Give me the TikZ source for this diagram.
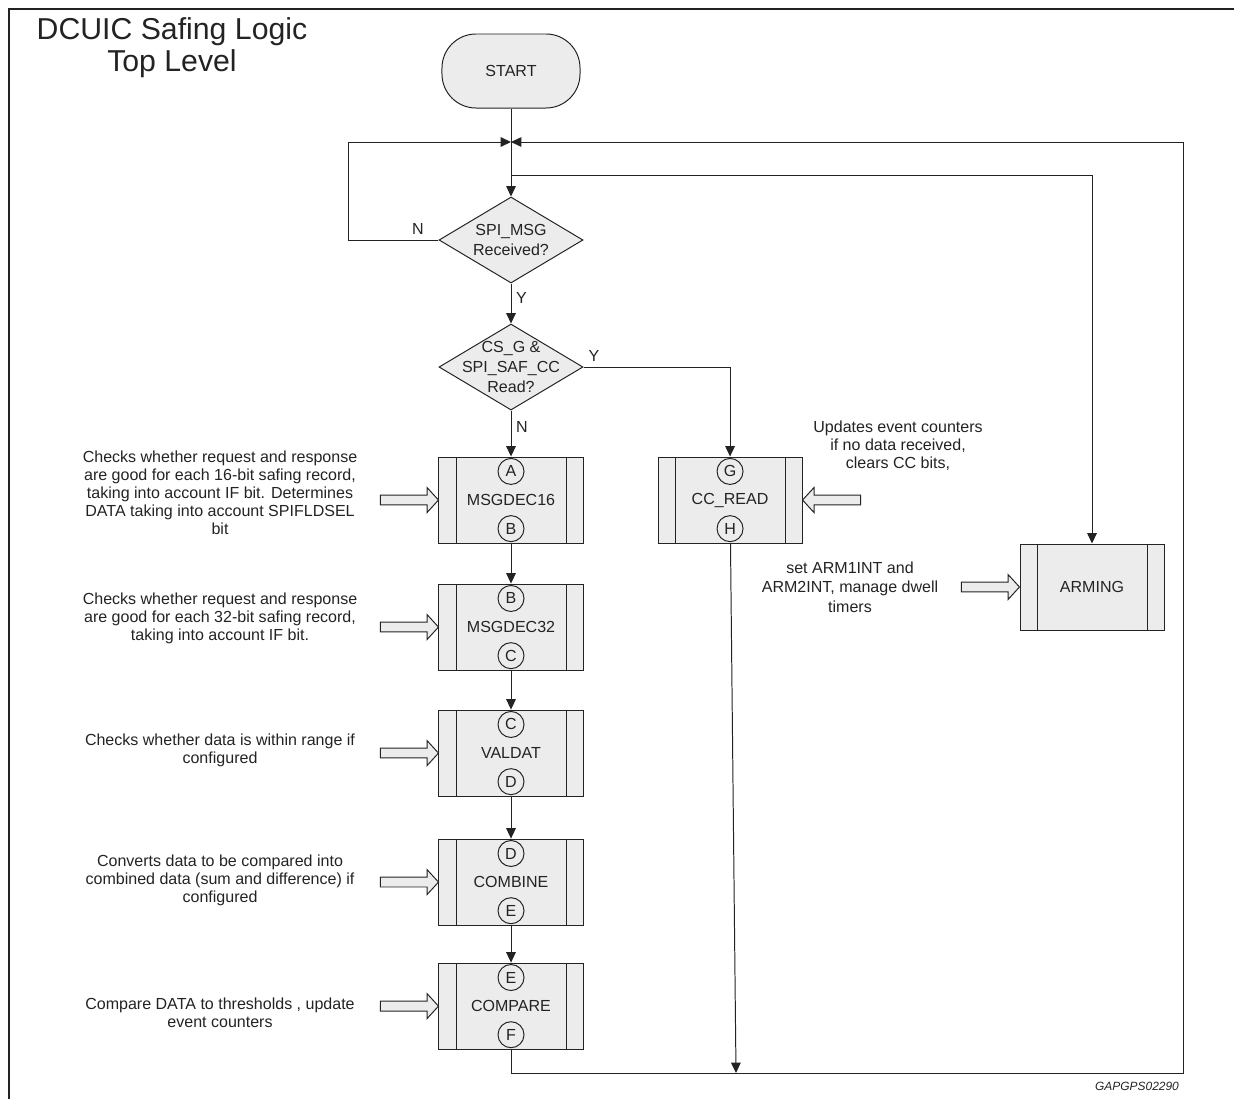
\documentclass[tikz,border=0pt]{standalone}
\usepackage{fontspec}
\setmainfont{Liberation Sans}
\usetikzlibrary{positioning,arrows.meta,shapes.geometric,shapes.arrows}
\definecolor{boxgray}{RGB}{236,236,236}
\definecolor{inkgray}{RGB}{35,35,35}

\begin{document}
\begin{tikzpicture}[
        x=0.025cm, y=-0.025cm,
        color=inkgray, line width=0.7pt,
        >={Triangle[length=0.26cm, width=0.24cm]},
        every node/.style={font=\fontsize{11.4}{12.8}\selectfont},
        proc/.style={draw, fill=boxgray, minimum width=3.6cm, minimum height=2.15cm, inner sep=0pt,
            path picture={
                \draw ([xshift=0.425cm]path picture bounding box.north west) -- ([xshift=0.425cm]path picture bounding box.south west);
                \draw ([xshift=-0.425cm]path picture bounding box.north east) -- ([xshift=-0.425cm]path picture bounding box.south east);}},
        conn/.style={circle, draw, minimum size=0.65cm, inner sep=0pt},
        decision/.style={diamond, draw, fill=boxgray, minimum width=3.6cm, minimum height=2.15cm, inner sep=0pt},
        dtext/.style={align=center, font=\fontsize{11.4}{14}\selectfont},
        feed/.style={single arrow, draw, fill=boxgray, minimum height=1.45cm, inner sep=0.11cm,
            single arrow head extend=0.19cm, single arrow tip angle=95, outer sep=0pt, anchor=tip},
        note/.style={align=center}
    ]
        \useasboundingbox (0,0) rectangle (1234,1099);
        \draw[line width=1pt] (9,1099) -- (9,9) -- (1234,9);

        % Title and start
        \node[align=center, font=\fontsize{21.5}{22.8}\selectfont] (title) at (172,48) {DCUIC Safing Logic\\Top Level};
        \node[draw, fill=boxgray, rounded corners=0.85cm, minimum width=3.45cm, minimum height=1.85cm] (start) at (511,71) {START};
        \coordinate (mrg) at (511,142);
        \coordinate (br) at (511,175);

        % Decisions
        \node[decision, label={[dtext]center:{SPI\_MSG\\Received?}}] (rx) at (511,240) {};
        \node[decision, below=1.0cm of rx, label={[dtext]center:{CS\_G \&\\SPI\_SAF\_CC\\Read?}}] (rd) {};

        % Process boxes
        \node[proc, below=1.15cm of rd] (m16) {MSGDEC16};
        \node[proc, below=1.0cm of m16] (m32) {MSGDEC32};
        \node[proc, below=0.975cm of m32] (vd) {VALDAT};
        \node[proc, below=1.05cm of vd] (cb) {COMBINE};
        \node[proc, below=0.925cm of cb] (cp) {COMPARE};
        \node[proc, right=1.85cm of m16] (ccr) {CC\_READ};
        \node[proc] (arm) at (1092,587) {ARMING};

        % Connector circles
        \node[conn, below=1pt of m16.north] (m16in) {A};
        \node[conn, above=1pt of m16.south] (m16out) {B};
        \node[conn, below=1pt of m32.north] (m32in) {B};
        \node[conn, above=1pt of m32.south] (m32out) {C};
        \node[conn, below=1pt of vd.north] (vdin) {C};
        \node[conn, above=1pt of vd.south] (vdout) {D};
        \node[conn, below=1pt of cb.north] (cbin) {D};
        \node[conn, above=1pt of cb.south] (cbout) {E};
        \node[conn, below=1pt of cp.north] (cpin) {E};
        \node[conn, above=1pt of cp.south] (cpout) {F};
        \node[conn, below=1pt of ccr.north] (ccrin) {G};
        \node[conn, above=1pt of ccr.south] (ccrout) {H};

        % Input arrows
        \node[feed] (f16) at (m16.west) {};
        \node[feed] (f32) at (m32.west) {};
        \node[feed] (fvd) at (vd.west) {};
        \node[feed] (fcb) at (cb.west) {};
        \node[feed] (fcp) at (cp.west) {};
        \node[feed, shape border rotate=180] (fcc) at (ccr.east) {};
        \node[feed] (farm) at (arm.west) {};

        % Notes
        \node[note] (t16) at (220,493) {Checks whether request and response\\are good for each 16-bit safing record,\\taking into account IF bit. Determines\\DATA taking into account SPIFLDSEL\\bit};
        \node[note] (t32) at (220,618) {Checks whether request and response\\are good for each 32-bit safing record,\\taking into account IF bit.};
        \node[note] (tvd) at (220,750) {Checks whether data is within range if\\configured};
        \node[note] (tcb) at (220,880) {Converts data to be compared into\\combined data (sum and difference) if\\configured};
        \node[note] (tcp) at (220,1013) {Compare DATA to thresholds , update\\event counters};
        \node[note] (tcc) at (898,446) {Updates event counters\\if no data received,\\clears CC bits,};
        \node[note, font=\fontsize{11.4}{14}\selectfont] (tarm) at (850,587) {set ARM1INT and\\ARM2INT, manage dwell\\timers};
        \node[anchor=east, font=\fontsize{8.5}{10}\selectfont\itshape] (fig) at (1184,1086) {GAPGPS02290};

        % Arrows
        \coordinate (ret) at (1183,1073);
        \coordinate (join) at (736,1073);
        \draw (start) -- (mrg);
        \draw[->] (mrg) -- (rx);
        \draw[->] (rx.west) -- ++(-90,0) node[pos=0.23, above] {N} |- (mrg);
        \draw[->] (rx) -- node[pos=0.35, right] {Y} (rd);
        \draw[->] (rd) -- node[pos=0.35, right] {N} (m16);
        \draw[->] (rd.east) -| node[pos=0, above right] {Y} (ccr);
        \draw[->] (br) -| (arm);
        \draw[->] (m16) -- (m32);
        \draw[->] (m32) -- (vd);
        \draw[->] (vd) -- (cb);
        \draw[->] (cb) -- (cp);
        \draw[->] (cp) |- (ret) |- (mrg);
        \draw[->] (ccr) -- (join);
\end{tikzpicture}
\end{document}
